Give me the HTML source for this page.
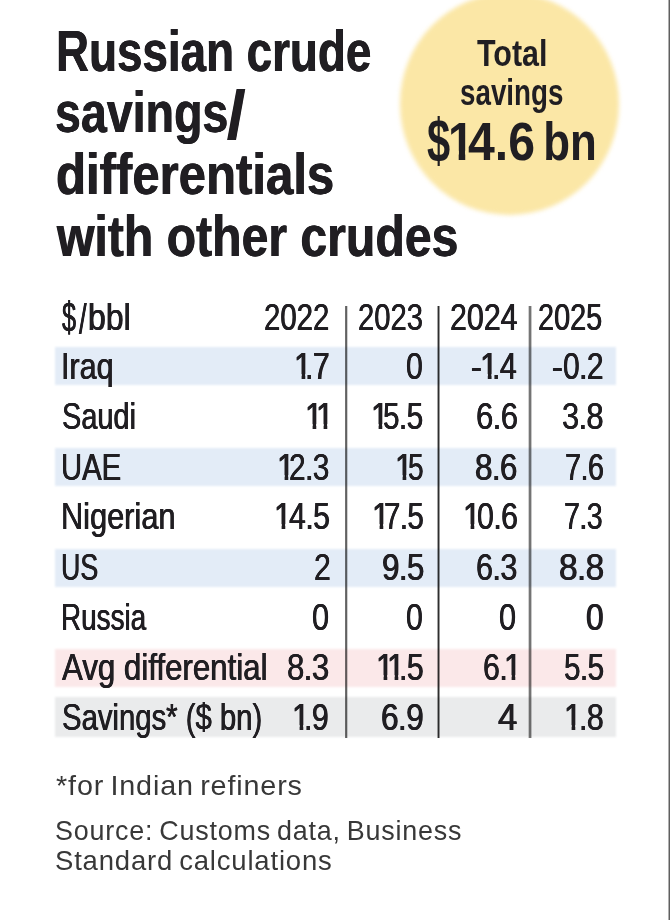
<!DOCTYPE html>
<html lang="en">
<head>
<meta charset="utf-8">
<title>Russian crude savings/differentials with other crudes</title>
<style>
html,body{margin:0;padding:0;background:#fff;}
body{width:670px;height:920px;position:relative;overflow:hidden;font-family:"Liberation Sans",sans-serif;}
h1,p,main,header,section,footer,aside{margin:0;padding:0;font:inherit;display:block;}
.t{position:absolute;left:0;white-space:pre;line-height:1;margin:0;padding:0;}
.t span{position:absolute;top:0;transform-origin:0 0;white-space:pre;}
.ti{font-size:57.5px;font-weight:700;color:#201e22}
.ti span{text-shadow:0.008em 0 0,-0.008em 0 0}
.ci{font-size:36.5px;font-weight:700;color:#201e22}
.cn{font-size:54px;font-weight:700;color:#201e22}
.hd{font-size:37px;font-weight:400;color:#201e22}
.hd span{text-shadow:0.012em 0 0,-0.012em 0 0}
.lb{font-size:37px;font-weight:400;color:#201e22}
.lb span{text-shadow:0.012em 0 0,-0.012em 0 0}
.nm{font-size:37px;font-weight:400;color:#201e22}
.nm span{letter-spacing:-0.020em;text-shadow:0.012em 0 0,-0.012em 0 0}
.fn{font-size:27.5px;font-weight:400;color:#383838}
.fn span{word-spacing:-0.09em;letter-spacing:0.030em}
.cn .o{clip-path:polygon(0 0,100% 0,100% 0.680em,0.372em 0.680em,0.372em 100%,0.231em 100%,0.231em 0.680em,0 0.680em)}
.nm .o{clip-path:polygon(0 0,100% 0,100% 0.700em,0.354em 0.700em,0.354em 100%,0.239em 100%,0.239em 0.700em,0 0.700em)}
.s{position:absolute;left:55px;width:560.5px;filter:blur(1px);}
.v{position:absolute;top:306px;height:432px;width:4px;}
.circle{position:absolute;left:400px;top:-7.5px;width:219.4px;height:222.5px;border-radius:50%;background:#fbe7a6;filter:blur(2px);}
.edge{position:absolute;left:668px;top:0;width:2px;height:920px;background:linear-gradient(90deg,#b0b0b0 50%,#5f5f5f 50%);}
</style>
</head>
<body>
<main>
<aside class="badge">
<div class="circle"></div>
<div class="t ci" style="top:36px"><span style="left:476.50px;transform:scaleX(0.8336)">Total</span></div>
<div class="t ci" style="top:75px"><span style="left:459.83px;transform:scaleX(0.7607)">savings</span></div>
<div class="t cn" style="top:114px"><span style="left:426.97px;transform:translateY(-5px) scale(0.7725,1.14)">$</span><span class="o" style="left:447.76px;transform:scaleX(0.8580)">1</span><span style="left:468.08px;transform:scaleX(0.8928)">4.6</span><span style="left:531.48px;transform:scaleX(0.8118)"> bn</span></div>
</aside>
<h1>
<span class="t ti" style="top:23px"><span style="left:55.65px;transform:scaleX(0.7958)">Russian crude</span></span>
<span class="t ti" style="top:84px"><span style="left:55.10px;transform:scaleX(0.8097)">savings</span><span style="left:227.47px;transform:translateY(-3.4px) scale(1.1530,1.207)">/</span></span>
<span class="t ti" style="top:146px"><span style="left:56.18px;transform:scaleX(0.8537)">differentials</span></span>
<span class="t ti" style="top:208px"><span style="left:56.98px;transform:scaleX(0.8375)">with other crudes</span></span>
</h1>
<section class="table">
<div class="s" style="top:347.4px;height:37.3px;background:#e3ecf7"></div>
<div class="s" style="top:448.4px;height:37.6px;background:#e3ecf7"></div>
<div class="s" style="top:549px;height:38px;background:#e3ecf7"></div>
<div class="s" style="top:648.8px;height:38.7px;background:#fbe8e9"></div>
<div class="s" style="top:696.8px;height:40.6px;background:#eaebec"></div>
<div class="v" style="left:344px;background:linear-gradient(90deg,rgba(0,0,0,0) 0% 25%,rgba(0,0,0,0.56) 25% 50%,rgba(0,0,0,0.62) 50% 75%,rgba(0,0,0,0.18) 75% 100%)"></div>
<div class="v" style="left:436px;background:linear-gradient(90deg,rgba(0,0,0,0) 0% 25%,rgba(0,0,0,0.36) 25% 50%,rgba(0,0,0,0.82) 50% 75%,rgba(0,0,0,0.4) 75% 100%)"></div>
<div class="v" style="left:528px;background:linear-gradient(90deg,rgba(0,0,0,0.18) 0% 25%,rgba(0,0,0,0.54) 25% 50%,rgba(0,0,0,0.55) 50% 75%,rgba(0,0,0,0.22) 75% 100%)"></div>
<div class="row">
<div class="t lb" style="top:299px"><span style="left:62.20px;transform:translateY(-2px) scale(0.6830,1.13)">$</span><span style="left:78.67px;transform:translateY(-1.4px) scale(0.7387,1.17)">/</span><span style="left:87.60px;transform:scaleX(0.8635)">bbl</span></div>
<div class="t hd" style="top:299px"><span style="left:263.73px;transform:scaleX(0.7938)">2022</span></div>
<div class="t hd" style="top:299px"><span style="left:357.73px;transform:scaleX(0.7894)">2023</span></div>
<div class="t hd" style="top:299px"><span style="left:449.58px;transform:scaleX(0.8214)">2024</span></div>
<div class="t hd" style="top:299px"><span style="left:538.35px;transform:scaleX(0.7801)">2025</span></div>
</div>
<div class="row">
<div class="t lb" style="top:348px"><span style="left:60.86px;transform:scaleX(0.8244)">Iraq</span></div>
<div class="t nm" style="top:348px"><span class="o" style="left:294.09px;transform:scaleX(0.8609)">1</span><span style="left:305.09px;transform:scaleX(0.8200)">.7</span></div>
<div class="t nm" style="top:348px"><span style="left:405.84px;transform:scaleX(0.8188)">0</span></div>
<div class="t nm" style="top:348px"><span style="left:471.22px;transform:scaleX(0.8809)">-</span><span class="o" style="left:479.83px;transform:scaleX(0.8809)">1</span><span style="left:492.48px;transform:scaleX(0.8200)">.4</span></div>
<div class="t nm" style="top:348px"><span style="left:551.82px;transform:scaleX(0.8809)">-</span><span style="left:563.45px;transform:scaleX(0.8119)">0.2</span></div>
</div>
<div class="row">
<div class="t lb" style="top:398px"><span style="left:61.69px;transform:scaleX(0.7818)">Saudi</span></div>
<div class="t nm" style="top:398px"><span class="o" style="left:305.39px;transform:scaleX(0.8609)">1</span><span class="o" style="left:316.19px;transform:scaleX(0.8609)">1</span></div>
<div class="t nm" style="top:398px"><span class="o" style="left:370.99px;transform:scaleX(0.8609)">1</span><span style="left:383.41px;transform:scaleX(0.8045)">5.5</span></div>
<div class="t nm" style="top:398px"><span style="left:475.65px;transform:scaleX(0.8425)">6.6</span></div>
<div class="t nm" style="top:398px"><span style="left:561.53px;transform:scaleX(0.8327)">3.8</span></div>
</div>
<div class="row">
<div class="t lb" style="top:449px"><span style="left:61.10px;transform:scaleX(0.7915)">UAE</span></div>
<div class="t nm" style="top:449px"><span class="o" style="left:277.09px;transform:scaleX(0.8609)">1</span><span style="left:289.20px;transform:scaleX(0.8087)">2.3</span></div>
<div class="t nm" style="top:449px"><span class="o" style="left:395.49px;transform:scaleX(0.8609)">1</span><span style="left:407.96px;transform:scaleX(0.7589)">5</span></div>
<div class="t nm" style="top:449px"><span style="left:474.86px;transform:scaleX(0.8506)">8.6</span></div>
<div class="t nm" style="top:449px"><span style="left:565.14px;transform:scaleX(0.7812)">7.6</span></div>
</div>
<div class="row">
<div class="t lb" style="top:498px"><span style="left:60.85px;transform:scaleX(0.8311)">Nigerian</span></div>
<div class="t nm" style="top:498px"><span class="o" style="left:274.09px;transform:scaleX(0.8609)">1</span><span style="left:289.15px;transform:scaleX(0.8200)">4.5</span></div>
<div class="t nm" style="top:498px"><span class="o" style="left:372.19px;transform:scaleX(0.8609)">1</span><span style="left:384.32px;transform:scaleX(0.7981)">7.5</span></div>
<div class="t nm" style="top:498px"><span class="o" style="left:462.59px;transform:scaleX(0.8609)">1</span><span style="left:476.55px;transform:scaleX(0.8200)">0.6</span></div>
<div class="t nm" style="top:498px"><span style="left:564.45px;transform:scaleX(0.7749)">7.3</span></div>
</div>
<div class="row">
<div class="t lb" style="top:549px"><span style="left:61.26px;transform:scaleX(0.7249)">US</span></div>
<div class="t nm" style="top:549px"><span style="left:313.69px;transform:scaleX(0.8164)">2</span></div>
<div class="t nm" style="top:549px"><span style="left:381.80px;transform:scaleX(0.8497)">9.5</span></div>
<div class="t nm" style="top:549px"><span style="left:475.77px;transform:scaleX(0.8277)">6.3</span></div>
<div class="t nm" style="top:549px"><span style="left:558.60px;transform:scaleX(0.9051)">8.8</span></div>
</div>
<div class="row">
<div class="t lb" style="top:599px"><span style="left:61.45px;transform:scaleX(0.7532)">Russia</span></div>
<div class="t nm" style="top:599px"><span style="left:311.63px;transform:scaleX(0.8295)">0</span></div>
<div class="t nm" style="top:599px"><span style="left:405.84px;transform:scaleX(0.8188)">0</span></div>
<div class="t nm" style="top:599px"><span style="left:499.13px;transform:scaleX(0.8295)">0</span></div>
<div class="t nm" style="top:599px"><span style="left:585.61px;transform:scaleX(0.8563)">0</span></div>
</div>
<div class="row">
<div class="t lb" style="top:649px"><span style="left:61.81px;transform:scaleX(0.8445)">Avg differential</span></div>
<div class="t nm" style="top:649px"><span style="left:287.46px;transform:scaleX(0.8443)">8.3</span></div>
<div class="t nm" style="top:649px"><span class="o" style="left:375.79px;transform:scaleX(0.8609)">1</span><span class="o" style="left:386.59px;transform:scaleX(0.8609)">1</span><span style="left:399.48px;transform:scaleX(0.8200)">.5</span></div>
<div class="t nm" style="top:649px"><span style="left:483.09px;transform:scaleX(0.8200)">6.</span><span class="o" style="left:504.49px;transform:scaleX(0.8609)">1</span></div>
<div class="t nm" style="top:649px"><span style="left:563.91px;transform:scaleX(0.8024)">5.5</span></div>
</div>
<div class="row">
<div class="t lb" style="top:699px"><span style="left:61.67px;transform:scaleX(0.7916)">Savings* ($ bn)</span></div>
<div class="t nm" style="top:699px"><span class="o" style="left:291.79px;transform:scaleX(0.8609)">1</span><span style="left:304.33px;transform:scaleX(0.8200)">.9</span></div>
<div class="t nm" style="top:699px"><span style="left:381.13px;transform:scaleX(0.8564)">6.9</span></div>
<div class="t nm" style="top:699px"><span style="left:497.65px;transform:scaleX(0.9383)">4</span></div>
<div class="t nm" style="top:699px"><span class="o" style="left:564.09px;transform:scaleX(0.8609)">1</span><span style="left:578.78px;transform:scaleX(0.8200)">.8</span></div>
</div>
</section>
<footer>
<p class="t fn" style="top:772px"><span style="left:55.97px;transform:scaleX(1.0448)">*for Indian refiners</span></p>
<p class="t fn" style="top:817px"><span style="left:54.69px;transform:scaleX(0.9785)">Source: Customs data, Business</span></p>
<p class="t fn" style="top:847px"><span style="left:54.66px;transform:scaleX(0.9995)">Standard calculations</span></p>
</footer>
</main>
<div class="edge"></div>
</body>
</html>
